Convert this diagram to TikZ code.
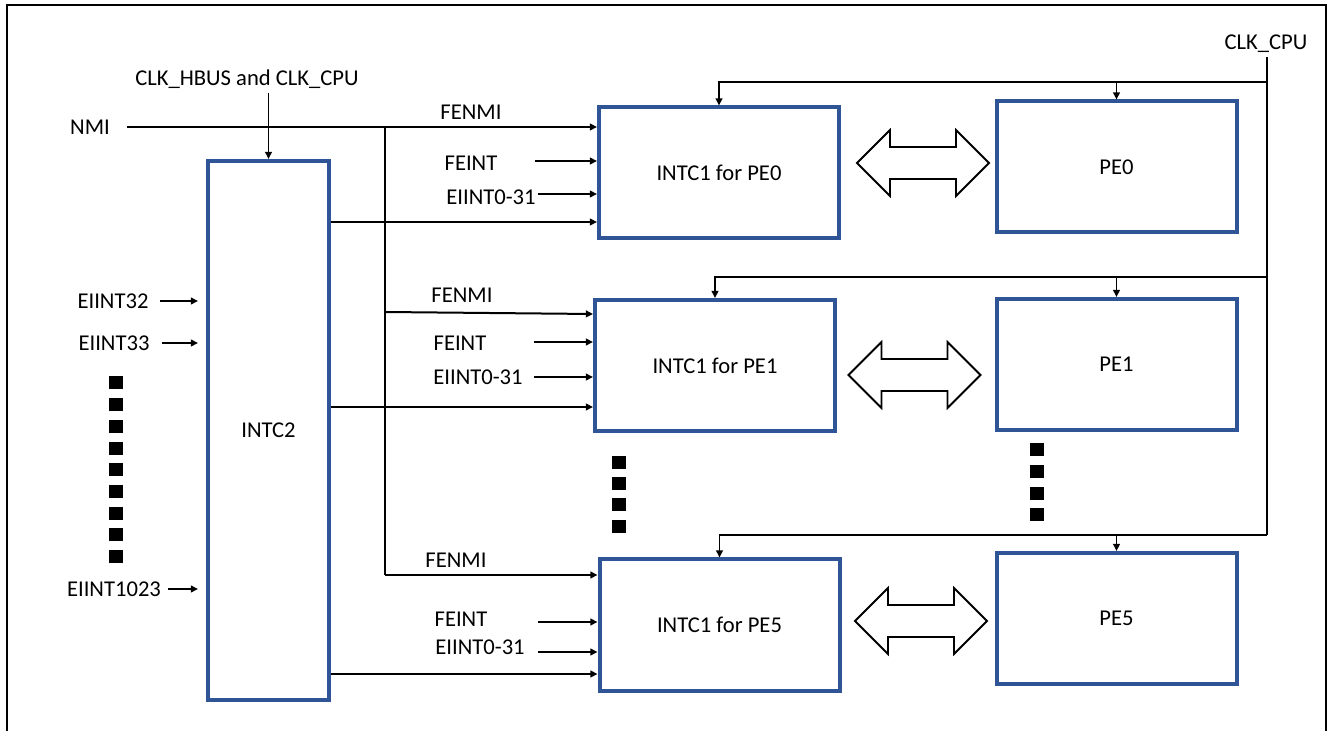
\documentclass[tikz,border=0pt]{standalone}
\usepackage{fontspec}
\setmainfont{Carlito}
\usetikzlibrary{arrows.meta,calc}
\definecolor{boxblue}{RGB}{47,85,151}
\tikzset{
  blubox/.style={draw=boxblue, line width=2pt, fill=white, inner sep=0pt,
    minimum width=120pt, minimum height=65.5pt, font=\fontsize{11.3pt}{13.5pt}\selectfont},
  lbl/.style={inner sep=0pt, font=\fontsize{11.3pt}{13.5pt}\selectfont},
  arr/.style={line width=0.8pt, -{Triangle[length=3.6pt,width=3.4pt]}},
  wire/.style={line width=1pt},
  sq/.style={fill=black, inner sep=0pt, minimum width=7pt, minimum height=6.5pt},
  dbl/.style={draw=black, line width=0.9pt, fill=white, line join=miter}
}
\newcommand\DblArr[3]{% name, cx, cy
  \coordinate (#1) at (#2,#3);
  \draw[dbl] ($(#1)+(-66,0)$) -- ++(33,-33) -- ++(0,17) -- ++(66,0) -- ++(0,-17)
    -- ++(33,33) -- ++(-33,33) -- ++(0,-17) -- ++(-66,0) -- ++(0,17) -- cycle;}
\begin{document}
\begin{tikzpicture}[x=0.5pt,y=-0.5pt]
\useasboundingbox (0,0) rectangle (1328,731);
% frame
\draw[line width=1pt] (6.5,731) -- (6.5,5) -- (1326,5) -- (1326,731);

% boxes
\node[blubox, minimum width=60.5pt, minimum height=269.5pt] (intc2) at (268.5,430.5) {INTC2};
\node[blubox] (i0) at (719,173) {INTC1 for PE0};
\node[blubox] (i1) at (715,365.5) {INTC1 for PE1};
\node[blubox] (i5) at (719.5,625) {INTC1 for PE5};
\node[blubox] (p0) at (1116.5,167) {PE0};
\node[blubox] (p1) at (1116.5,364.5) {PE1};
\node[blubox] (p5) at (1116.5,618.5) {PE5};

% double arrows
\DblArr{d0}{923}{163}
\DblArr{d1}{914.5}{375}
\DblArr{d5}{921}{621}

% CLK_HBUS
\node[lbl] (hbus) at (247,79) {CLK\_HBUS and CLK\_CPU};
\coordinate (hb) at (268.5,93);
\draw[arr] (hb) -- (intc2.north);

% NMI and FENMI bus
\node[lbl] (nmi) at (90,127) {NMI};
\coordinate (nmis) at (127,127);
\draw[arr, line width=1pt] (nmis) -- (nmis -| i0.west);
\coordinate (bus0) at (385,127);
\coordinate (f1) at (385,312);
\coordinate (f5) at (385,575);
\draw[wire] (bus0) -- (f5);
\draw[arr, line width=1pt] (f1) -- ($(i1.north west)+(0,16)$);
\draw[arr, line width=1pt] (f5) -- (f5 -| i5.west);

% FENMI labels
\node[lbl] (fn0) at (471,112) {FENMI};
\node[lbl] (fn1) at (462,295) {FENMI};
\node[lbl] (fn5) at (456,560) {FENMI};

% FEINT / EIINT0-31 inputs
\node[lbl] (fe0) at (471,163) {FEINT};
\node[lbl] (ei0) at (491,197) {EIINT0-31};
\coordinate (fe0s) at (535,161);
\coordinate (ei0s) at (538,194);
\draw[arr] (fe0s) -- (fe0s -| i0.west);
\draw[arr] (ei0s) -- (ei0s -| i0.west);

\node[lbl] (fe1) at (460,343) {FEINT};
\node[lbl] (ei1) at (478,377) {EIINT0-31};
\coordinate (fe1s) at (534,342);
\coordinate (ei1s) at (534,377);
\draw[arr] (fe1s) -- (fe1s -| i1.west);
\draw[arr] (ei1s) -- (ei1s -| i1.west);

\node[lbl] (fe5) at (461,619) {FEINT};
\node[lbl] (ei5) at (480,647) {EIINT0-31};
\coordinate (fe5s) at (538,622);
\coordinate (ei5s) at (538,652);
\draw[arr] (fe5s) -- (fe5s -| i5.west);
\draw[arr] (ei5s) -- (ei5s -| i5.west);

% INTC2 outputs
\coordinate (o0) at (329,222);
\coordinate (o1) at (329,407);
\coordinate (o5) at (329,674);
\draw[arr, line width=1pt] (o0 -| intc2.east) -- (o0 -| i0.west);
\draw[arr, line width=1pt] (o1 -| intc2.east) -- (o1 -| i1.west);
\draw[arr, line width=1pt] (o5 -| intc2.east) -- (o5 -| i5.west);

% EIINT inputs to INTC2
\node[lbl] (e32) at (113,301) {EIINT32};
\node[lbl] (e33) at (114,343) {EIINT33};
\node[lbl] (e1023) at (114,589) {EIINT1023};
\coordinate (e32s) at (160,301);
\coordinate (e33s) at (162,343);
\coordinate (e1023s) at (168,589);
\draw[arr, shorten >=4pt] (e32s) -- (e32s -| intc2.west);
\draw[arr, shorten >=4pt] (e33s) -- (e33s -| intc2.west);
\draw[arr, shorten >=4pt] (e1023s) -- (e1023s -| intc2.west);

% CLK_CPU
\node[lbl] (clk) at (1266,44) {CLK\_CPU};
\coordinate (clkt) at (1267,57);
\coordinate (cv0) at (1267,82);
\coordinate (cv1) at (1267,277);
\coordinate (cv5) at (1267,535);
\draw[wire] (clkt) -- (cv5);
\draw[arr] (cv0) -| (i0.north);
\draw[arr] (cv1) -| (i1.north);
\draw[arr] (cv5) -| (i5.north);
\draw[arr] (cv0 -| p0.north) -- (p0.north);
\draw[arr] (cv1 -| p1.north) -- (p1.north);
\draw[arr] (cv5 -| p5.north) -- (p5.north);

% ellipsis squares
\foreach \y [count=\k] in {383,405,427,449,470,492,514,535,557}
  \node[sq] (lq\k) at (116,\y) {};
\foreach \y [count=\k] in {463,484,505,527}
  \node[sq] (mq\k) at (619,\y) {};
\foreach \y [count=\k] in {450,472,494,515}
  \node[sq] (rq\k) at (1037,\y) {};
\end{tikzpicture}
\end{document}
